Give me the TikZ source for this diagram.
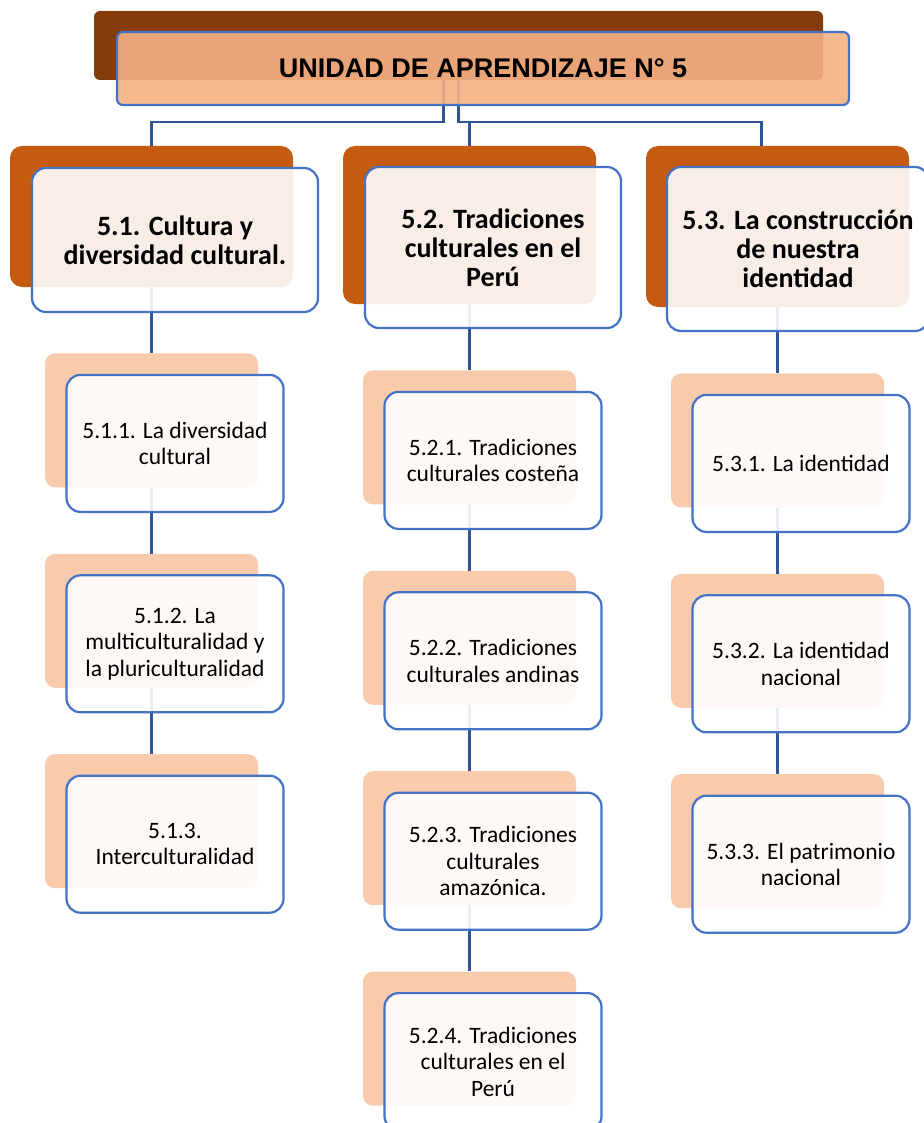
\documentclass[tikz,border=0pt]{standalone}
\usepackage{fontspec}
\setmainfont{Carlito}
\newfontfamily\titlefont{Liberation Sans}
\usetikzlibrary{positioning}
\definecolor{titlebrown}{RGB}{132,60,12}
\definecolor{titlepeach}{RGB}{244,177,131}
\definecolor{headbrown}{RGB}{197,90,17}
\definecolor{subpeach}{RGB}{248,203,173}
\definecolor{boxblue}{RGB}{68,114,196}
\definecolor{lineblue}{RGB}{47,85,151}

\begin{document}
\begin{tikzpicture}[
    x=1pt, y=-1pt,
    titleback/.style={rectangle, rounded corners=6pt, fill=titlebrown,
                      minimum width=729pt, minimum height=69pt},
    titlefront/.style={rectangle, rounded corners=6pt, draw=boxblue, line width=2.2pt,
                       fill=titlepeach, fill opacity=0.9, text opacity=1,
                       minimum width=732pt, minimum height=73pt,
                       font=\titlefont\bfseries\fontsize{27}{30}\selectfont},
    headback/.style={rectangle, rounded corners=12pt, fill=headbrown},
    headfront/.style={rectangle, rounded corners=14pt, draw=boxblue, line width=2.2pt,
                      fill=white, fill opacity=0.9, text opacity=1, align=center,
                      font=\bfseries\fontsize{28}{29}\selectfont},
    subback/.style={rectangle, rounded corners=10pt, fill=subpeach,
                    minimum width=213pt, minimum height=134pt},
    subfront/.style={rectangle, rounded corners=14pt, draw=boxblue, line width=2.2pt,
                     fill=white, fill opacity=0.9, text opacity=1, align=center,
                     minimum width=217pt, minimum height=137pt,
                     font=\fontsize{23.5}{26.5}\selectfont},
    link/.style={draw=lineblue, line width=2.2pt}
]
\useasboundingbox (0,0) rectangle (923,1123);

%% ── Back layer: title and headers ──
\node[titleback] (tback) at (458.5,45.5) {};
\node[headback, minimum width=283pt, minimum height=141pt] (hb1) at (151.5,216.5) {};
\node[headback, minimum width=253pt, minimum height=158pt] (hb2) at (469.5,225) {};
\node[headback, minimum width=263pt, minimum height=161pt] (hb3) at (777.5,226.5) {};

%% ── Back layer: sub-topics ──
\node[subback, below=66pt of hb1]  (sb11) {};
\node[subback, below=66pt of sb11] (sb12) {};
\node[subback, below=66pt of sb12] (sb13) {};
\node[subback, below=66pt of hb2]  (sb21) {};
\node[subback, below=66pt of sb21] (sb22) {};
\node[subback, below=66pt of sb22] (sb23) {};
\node[subback, below=66pt of sb23] (sb24) {};
\node[subback, below=66pt of hb3]  (sb31) {};
\node[subback, below=66pt of sb31] (sb32) {};
\node[subback, below=66pt of sb32] (sb33) {};

%% ── Connectors ──
\draw[link] ([xshift=-15pt]tback.south) -- ++(0,42) -| (hb1.north);
\draw[link] (tback.south) -- ++(0,42) -| (hb2.north);
\draw[link] (tback.south) -- ++(0,42) -| ([xshift=-16pt]hb3.north);
\draw[link] (hb1)  -- (sb11);
\draw[link] (sb11) -- (sb12);
\draw[link] (sb12) -- (sb13);
\draw[link] (hb2)  -- (sb21);
\draw[link] (sb21) -- (sb22);
\draw[link] (sb22) -- (sb23);
\draw[link] (sb23) -- (sb24);
\draw[link] (hb3)  -- (sb31);
\draw[link] (sb31) -- (sb32);
\draw[link] (sb32) -- (sb33);

%% ── Front layer: title and headers ──
\node[titlefront] (tfront) at (483,68.5) {UNIDAD DE APRENDIZAJE N° 5};
\node[headfront, minimum width=286pt, minimum height=144pt, xshift=23.5pt, yshift=-23.5pt]
    (hf1) at (hb1) {5.1. Cultura y\\diversidad cultural.};
\node[headfront, minimum width=256pt, minimum height=161pt, xshift=23.5pt, yshift=-22.5pt]
    (hf2) at (hb2) {5.2. Tradiciones\\culturales en el\\Perú};
\node[headfront, minimum width=262pt, minimum height=164pt, xshift=20.5pt, yshift=-22.5pt]
    (hf3) at (hb3) {5.3. La construcción\\de nuestra\\identidad};

%% ── Front layer: sub-topics ──
\node[subfront, xshift=23.5pt, yshift=-23pt] (sf11) at (sb11) {5.1.1. La diversidad\\cultural};
\node[subfront, xshift=23.5pt, yshift=-23pt] (sf12) at (sb12) {5.1.2. La\\multiculturalidad y\\la pluriculturalidad};
\node[subfront, xshift=23.5pt, yshift=-23pt] (sf13) at (sb13) {5.1.3.\\Interculturalidad};
\node[subfront, xshift=23.5pt, yshift=-23pt] (sf21) at (sb21) {5.2.1. Tradiciones\\culturales costeña};
\node[subfront, xshift=23.5pt, yshift=-23pt] (sf22) at (sb22) {5.2.2. Tradiciones\\culturales andinas};
\node[subfront, xshift=23.5pt, yshift=-23pt] (sf23) at (sb23) {5.2.3. Tradiciones\\culturales\\amazónica.};
\node[subfront, xshift=23.5pt, yshift=-23pt] (sf24) at (sb24) {5.2.4. Tradiciones\\culturales en el\\Perú};
\node[subfront, xshift=23.5pt, yshift=-23pt] (sf31) at (sb31) {5.3.1. La identidad};
\node[subfront, xshift=23.5pt, yshift=-23pt] (sf32) at (sb32) {5.3.2. La identidad\\nacional};
\node[subfront, xshift=23.5pt, yshift=-23pt] (sf33) at (sb33) {5.3.3. El patrimonio\\nacional};

\end{tikzpicture}
\end{document}
